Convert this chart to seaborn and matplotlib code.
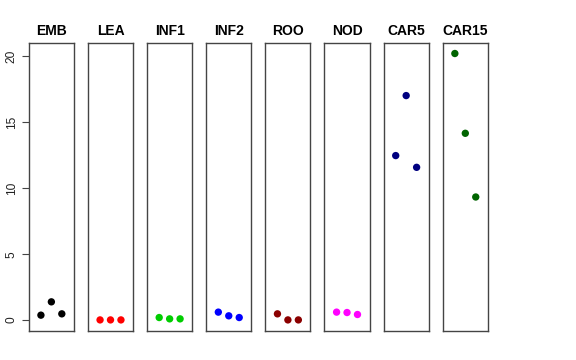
import pandas as pd
import matplotlib
matplotlib.use("Agg")
import matplotlib.pyplot as plt
import seaborn as sns

# values, three replicates per tissue
tissues = ["EMB", "LEA", "INF1", "INF2", "ROO", "NOD", "CAR5", "CAR15"]
emb = [0.38, 1.39, 0.48]
lea = [0.02, 0.02, 0.02]
inf1 = [0.20, 0.10, 0.10]
inf2 = [0.61, 0.33, 0.20]
roo = [0.48, 0.02, 0.02]
nod = [0.61, 0.58, 0.43]
car5 = [12.48, 17.03, 11.59]
car15 = [20.22, 14.17, 9.34]
replicate = [1, 2, 3]
colors = ["black", "red", "#00CD00", "blue", "#8B0000", "magenta", "#000080", "#006400"]

values = [emb, lea, inf1, inf2, roo, nod, car5, car15]
df = pd.concat(
    [pd.DataFrame({"tissue": t, "rep": replicate, "value": v}) for t, v in zip(tissues, values)],
    ignore_index=True,
)

sns.set_style("white")
plt.rcParams["font.family"] = ["Liberation Sans", "DejaVu Sans"]
fig, axes = plt.subplots(1, len(tissues), figsize=(5.76, 3.6), dpi=100, sharey=True)
fig.subplots_adjust(left=0.050, right=0.847, top=0.881, bottom=0.081, wspace=0.31)

ymax = df["value"].max()
pad = ymax * 0.04

for ax, t, c in zip(axes, tissues, colors):
    sub = df[df["tissue"] == t]
    sns.scatterplot(data=sub, x="rep", y="value", color=c, s=28, edgecolor="none", ax=ax, legend=False)
    ax.set_xlim(-0.16, 4.16)
    ax.set_ylim(-pad, ymax + pad)
    ax.set_title(t, fontsize=10, fontweight="bold", color="black", pad=6)
    ax.set_xlabel("")
    ax.set_ylabel("")
    ax.set_xticks([])
    for s in ax.spines.values():
        s.set_color("#444444")
        s.set_linewidth(1.0)

axes[0].set_yticks([0, 5, 10, 15, 20])
axes[0].tick_params(axis="y", left=True, length=5, width=0.8, color="#444444",
                    labelsize=8.6, labelcolor="#222222", pad=3)
for lab in axes[0].get_yticklabels():
    lab.set_rotation(90)
    lab.set_va("center")
for ax in axes[1:]:
    ax.tick_params(axis="y", left=False)

plt.savefig("out.png", dpi=100)
